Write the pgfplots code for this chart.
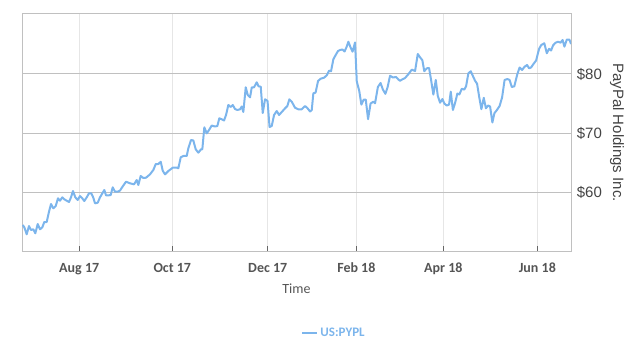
\documentclass[border=0pt]{standalone}
\usepackage{pgfplots}
\pgfplotsset{compat=1.18}
\usepackage{fontspec}
\setmainfont{Carlito}
\newfontfamily\arialf{Liberation Sans}
\definecolor{pycol}{HTML}{7CB5EC}
\definecolor{hgrid}{HTML}{C0C0C0}
\definecolor{vgrid}{HTML}{E6E6E6}
\definecolor{bline}{HTML}{C0C8D8}
\definecolor{labcol}{HTML}{555555}
\definecolor{ylabcol}{HTML}{444444}
\begin{document}
\begin{tikzpicture}
\useasboundingbox (0,0) rectangle (636bp,351bp);
\begin{axis}[
  at={(22bp,100bp)}, anchor=south west,
  scale only axis, width=549bp, height=237bp,
  xmin=0, xmax=249.5, ymin=50.08, ymax=90.14,
  xtick={26.0,68.3,111.7,151.95,191.5,234.2},
  xticklabels={Aug 17,Oct 17,Dec 17,Feb 18,Apr 18,Jun 18},
  ytick={60,70,80}, yticklabels={\$60,\$70,\$80},
  yticklabel pos=right,
  xtick pos=left,
  ytick style={draw=none},
  xtick align=inside, major tick length=5bp,
  xtick style={color=black!60, line width=1bp},
  xmajorgrids, ymajorgrids,
  x grid style={vgrid, line width=1bp},
  y grid style={hgrid, line width=1bp},
  axis line style={hgrid, line width=1bp},
  xticklabel style={font=\fontsize{14bp}{16bp}\selectfont\bfseries, text=labcol, anchor=base, yshift=-21bp},
  yticklabel style={font=\arialf\fontsize{15bp}{18bp}\selectfont, text=ylabcol, anchor=west, inner sep=0pt, xshift=5.7bp},
  xlabel={Time},
  xlabel style={font=\fontsize{14bp}{16bp}\selectfont, text=labcol, at={(axis description cs:0.5,0)}, anchor=base, yshift=-42bp},
  ylabel={PayPal Holdings Inc.},
  ylabel style={font=\arialf\fontsize{15bp}{18bp}\selectfont, text=ylabcol, at={(axis description cs:1.0838,0.5)}, anchor=center, rotate=180},
  legend style={at={(axis description cs:0.568,-0.346)}, anchor=center, draw=none, fill=none, font=\fontsize{13bp}{15bp}\selectfont\bfseries, text=pycol},
  legend image code/.code={\draw[#1, line width=2.5bp] (0bp,0bp) -- (15bp,0bp);},
]
\addplot[pycol, line width=2bp, line join=round] coordinates {
(0.32,54.47) (1.05,54.08) (2.14,52.90) (3.18,54.30) (4.09,53.63) (5.14,53.75)
(6.05,53.07) (7.14,54.64) (8.18,53.75) (9.23,54.08) (10.14,54.98) (11.23,54.98)
(12.27,56.72) (13.18,58.02) (14.23,57.30) (15.32,57.68) (16.36,58.99) (17.27,58.58)
(18.32,59.15) (19.23,58.82) (20.32,58.58) (21.36,58.36) (22.27,59.15) (23.18,60.22)
(24.23,59.15) (25.32,58.70) (26.36,59.37) (27.27,59.04) (28.32,58.53) (29.41,59.15)
(30.45,59.83) (31.50,59.83) (32.41,59.09) (33.18,58.14) (34.41,58.24) (35.45,59.15)
(36.68,59.93) (37.41,60.39) (38.18,59.49) (39.41,59.49) (40.32,59.54) (41.23,60.85)
(42.27,60.10) (43.50,60.10) (44.55,60.30) (45.91,61.07) (47.27,61.79) (49.09,61.52)
(50.91,61.35) (52.14,62.08) (52.86,61.23) (53.95,62.76) (55.14,62.42) (56.36,62.47)
(58.18,63.04) (59.68,63.77) (60.77,64.78) (61.95,64.78) (63.05,65.17) (63.95,63.65)
(65.00,63.04) (66.50,63.60) (68.50,64.16) (70.45,64.16) (71.05,64.06) (72.14,65.92)
(73.32,66.14) (74.86,66.14) (75.59,67.44) (76.82,68.84) (77.86,68.76) (78.95,67.27)
(80.14,66.70) (81.36,67.27) (81.95,67.27) (82.86,70.99) (83.95,69.97) (85.00,70.53)
(86.23,71.29) (87.73,71.12) (88.77,71.21) (89.68,72.51) (90.77,72.34) (91.82,72.14)
(92.73,73.07) (93.77,74.76) (94.86,74.42) (95.77,74.76) (96.82,74.08) (97.86,73.91)
(99.09,74.03) (99.86,74.51) (100.59,73.58) (101.68,77.75) (102.59,76.45) (103.64,76.06)
(104.41,77.72) (105.45,77.75) (106.68,78.60) (107.50,77.92) (108.50,77.85) (109.41,73.41)
(110.45,75.72) (111.59,75.44) (112.50,71.04) (113.50,71.21) (114.55,73.07) (115.77,73.74)
(116.82,73.07) (118.18,73.63) (119.55,74.20) (120.59,74.59) (121.50,75.72) (122.59,75.32)
(124.09,74.29) (125.59,74.03) (127.14,74.03) (128.64,74.59) (129.77,74.20) (130.91,73.66)
(131.68,73.91) (132.41,76.74) (133.41,76.84) (134.55,78.82) (135.77,79.21) (137.27,79.37)
(138.50,79.78) (139.55,80.56) (140.45,80.47) (141.50,82.49) (142.82,83.38) (143.64,83.89)
(144.55,84.06) (145.68,84.14) (146.59,83.80) (147.50,84.56) (148.32,85.46) (149.32,84.48)
(150.23,83.77) (151.36,85.33) (152.14,78.73) (153.27,77.13) (154.23,74.83) (155.32,75.67)
(156.23,75.67) (157.27,72.36) (158.41,75.00) (159.68,75.32) (160.45,75.05) (161.73,77.80)
(162.95,78.48) (164.00,77.38) (165.14,76.65) (166.14,77.75) (167.27,79.71) (168.55,79.41)
(170.00,79.49) (171.05,79.07) (171.82,78.85) (172.86,79.10) (174.09,79.32) (175.59,79.97)
(177.14,80.73) (178.64,80.51) (179.86,83.38) (180.91,82.82) (181.95,82.32) (182.82,80.47)
(183.95,80.96) (185.00,81.01) (185.91,78.99) (186.95,76.52) (188.05,78.99) (188.95,76.31)
(190.00,75.15) (191.05,75.77) (191.95,75.00) (193.05,74.66) (194.09,74.84) (194.86,77.01)
(195.82,73.91) (196.82,75.10) (197.86,76.70) (198.77,76.53) (199.86,77.50) (201.00,77.36)
(201.82,77.92) (202.86,80.12) (203.95,80.46) (204.86,79.70) (205.91,78.85) (206.82,78.34)
(207.82,76.03) (208.77,74.05) (209.86,75.98) (210.82,74.20) (211.82,74.67) (212.73,74.51)
(213.77,71.80) (214.68,73.36) (215.82,73.91) (217.05,74.59) (218.18,76.03) (219.32,78.99)
(220.59,79.15) (221.59,78.99) (222.59,77.80) (223.73,77.92) (225.00,79.83) (226.14,81.10)
(227.27,80.68) (228.41,81.23) (229.55,81.52) (230.45,80.96) (231.36,81.10) (232.27,81.61)
(233.64,82.28) (235.00,84.26) (236.00,84.90) (237.36,85.19) (238.50,83.50) (239.55,84.26)
(240.45,83.97) (241.36,84.85) (242.50,85.29) (243.64,85.46) (244.73,85.29) (245.68,85.75)
(246.50,84.62) (247.59,85.82) (248.73,85.82) (249.55,85.07)
};
\addlegendentry{US:PYPL}
\draw[bline, line width=1bp] (rel axis cs:0,0) -- (rel axis cs:1,0);
\end{axis}
\end{tikzpicture}
\end{document}
